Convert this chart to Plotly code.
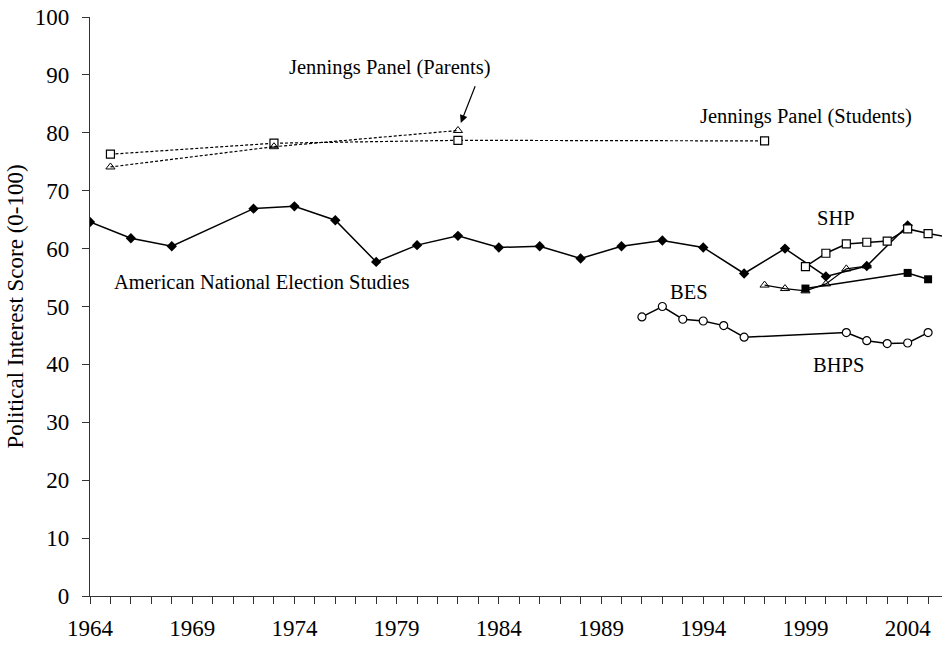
import plotly.graph_objects as go

# American National Election Studies
anes_years = [1964, 1966, 1968, 1972, 1974, 1976, 1978, 1980, 1982, 1984,
              1986, 1988, 1990, 1992, 1994, 1996, 1998, 2000, 2002, 2004]
anes_vals = [64.6, 61.8, 60.4, 66.9, 67.3, 64.9, 57.7, 60.6, 62.2, 60.2,
             60.4, 58.3, 60.4, 61.4, 60.2, 55.7, 60.0, 55.2, 57.0, 64.0]

# Jennings panel
jp_students_years = [1965, 1973, 1982, 1997]
jp_students_vals = [76.3, 78.2, 78.7, 78.6]
jp_parents_years = [1965, 1973, 1982]
jp_parents_vals = [74.1, 77.6, 80.4]

# British series (BES followed by BHPS)
brit_years = [1991, 1992, 1993, 1994, 1995, 1996, 2001, 2002, 2003, 2004, 2005]
brit_vals = [48.2, 50.0, 47.8, 47.5, 46.7, 44.7, 45.5, 44.1, 43.6, 43.7, 45.5]

# Swiss Household Panel
shp_years = [1999, 2000, 2001, 2002, 2003, 2004, 2005, 2006]
shp_vals = [56.9, 59.2, 60.8, 61.1, 61.3, 63.4, 62.6, 62.0]

# Filled-square series
fsq_years = [1999, 2004, 2005]
fsq_vals = [53.1, 55.8, 54.7]

# Triangle series
tri_years = [1997, 1998, 1999, 2000, 2001, 2002]
tri_vals = [53.7, 53.1, 52.7, 53.9, 56.5, 57.0]

FONT = "Liberation Serif, Times New Roman, serif"
BLACK = "#000000"
AXIS = "#333333"

fig = go.Figure()

fig.add_trace(go.Scatter(
    x=jp_students_years, y=jp_students_vals, mode="lines+markers",
    line=dict(color=BLACK, width=1.2, dash="3px,2px"),
    marker=dict(symbol="square", size=8, color="white", line=dict(color=BLACK, width=1.2)),
))
fig.add_trace(go.Scatter(
    x=jp_parents_years, y=jp_parents_vals, mode="lines+markers",
    line=dict(color=BLACK, width=1.2, dash="3px,2px"),
    marker=dict(symbol="triangle-up-open", size=8, color=BLACK, line=dict(width=1)),
))
fig.add_trace(go.Scatter(
    x=anes_years, y=anes_vals, mode="lines+markers",
    line=dict(color=BLACK, width=1.5),
    marker=dict(symbol="diamond", size=8, color=BLACK),
))
fig.add_trace(go.Scatter(
    x=tri_years, y=tri_vals, mode="lines+markers",
    line=dict(color=BLACK, width=1.2),
    marker=dict(symbol="triangle-up-open", size=8, color=BLACK, line=dict(width=1)),
))
fig.add_trace(go.Scatter(
    x=fsq_years, y=fsq_vals, mode="lines+markers",
    line=dict(color=BLACK, width=1.5),
    marker=dict(symbol="square", size=8, color=BLACK),
))
fig.add_trace(go.Scatter(
    x=shp_years, y=shp_vals, mode="lines+markers",
    line=dict(color=BLACK, width=1.5),
    marker=dict(symbol="square", size=8, color="white", line=dict(color=BLACK, width=1.2)),
))
fig.add_trace(go.Scatter(
    x=brit_years, y=brit_vals, mode="lines+markers",
    line=dict(color=BLACK, width=1.5),
    marker=dict(symbol="circle", size=8, color="white", line=dict(color=BLACK, width=1.2)),
))

labels = [
    ("Jennings Panel (Parents)", 1978.7, 91.2),
    ("Jennings Panel (Students)", 1999.05, 82.9),
    ("SHP", 2000.5, 65.3),
    ("American National Election Studies", 1972.4, 54.2),
    ("BES", 1993.3, 52.5),
    ("BHPS", 2000.6, 39.9),
]
for text, x, y in labels:
    fig.add_annotation(x=x, y=y, text=text, showarrow=False,
                       font=dict(family=FONT, size=20.5, color=BLACK))

# arrow pointing at the last parents' observation
fig.add_annotation(x=1982.14, y=81.7, ax=1982.87, ay=88.3, axref="x", ayref="y",
                   text="", showarrow=True, arrowhead=2, arrowsize=1.3,
                   arrowwidth=1.2, arrowcolor=BLACK)

fig.update_layout(
    width=942, height=646,
    margin=dict(l=90, r=0, t=17, b=50),
    paper_bgcolor="white", plot_bgcolor="white",
    showlegend=False,
    font=dict(family=FONT, color=BLACK),
    xaxis=dict(
        range=[1964, 2005.68], tick0=1964, dtick=5,
        showgrid=False, zeroline=False,
        showline=True, linecolor=AXIS, linewidth=1.3,
        ticks="outside", ticklen=7, tickcolor=AXIS, tickwidth=1.2,
        tickfont=dict(family=FONT, size=23, color=BLACK),
        ticklabelstandoff=4,
        minor=dict(dtick=1, tick0=1964, ticks="outside", ticklen=7,
                   tickcolor=AXIS, tickwidth=1.2, showgrid=False),
    ),
    yaxis=dict(
        range=[0, 100], dtick=10,
        showgrid=False, zeroline=False,
        showline=True, linecolor=AXIS, linewidth=1.3,
        ticks="outside", ticklen=7, tickcolor=AXIS, tickwidth=1.2,
        tickfont=dict(family=FONT, size=23, color=BLACK),
        ticklabelstandoff=8,
        title=dict(text="Political Interest Score (0-100)",
                   font=dict(family=FONT, size=23, color=BLACK), standoff=4),
    ),
)

fig.write_html("out.html")
